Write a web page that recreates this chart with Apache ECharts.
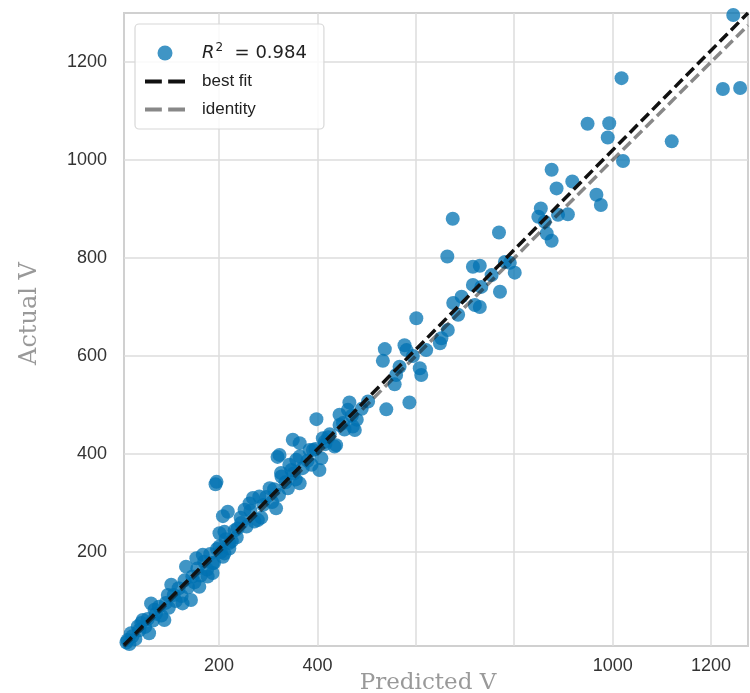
<!DOCTYPE html>
<html>
<head>
<meta charset="utf-8">
<script src="https://cdn.jsdelivr.net/npm/echarts@6/dist/echarts.min.js"></script>
<style>
html,body{margin:0;padding:0;background:#fff;}
#chart{width:750px;height:693px;}
</style>
</head>
<body>
<div id="chart"></div>
<script>
// Predicted (x) and actual (y) values
const predicted = [
 1245,1224,1259,1120,1018,1021,949,993,990,876,886,918,967,976,854,849,889,909,862,866,876,
 769,781,791,801,771,754,730,733,730,664,675,716,716,720,693,676,686,665,601,649,652,577,581,
 537,533,608,611,567,560,594,621,557,540,587,503,465,462,476,472,445,452,438,398,411,408,391,
 364,445,435,384,404,350,319,357,347,370,326,364,323,343,327,364,303,316,282,269,262,252,218,
 208,279,286,245,238,211,201,221,201,167,154,133,187,208,193,195,221,211,177,187,160,143,126,
 103,96,62,69,89,45,35,21,14,58,425,415,
 12,18,24,30,38,42,50,55,66,72,78,83,92,98,108,112,118,124,130,137,146,150,156,163,170,176,
 182,190,196,204,214,226,232,236,244,256,264,272,290,296,308,312,322,335,340,352,356,380,388,
 396,416,422,455,470,480,490
];
const actual = [
 1296,1145,1147,1038,1167,998,1074,1075,1046,980,942,956,929,908,901,884,888,889,874,850,835,
 852,792,790,770,731,765,784,741,700,803,880,782,745,704,721,708,684,653,677,626,636,622,612,
 614,590,575,561,578,561,600,612,542,491,505,507,505,490,449,456,480,463,418,471,432,391,408,
 340,459,415,408,367,429,394,388,367,371,361,422,398,378,354,395,330,289,313,310,299,286,282,
 273,265,270,259,248,241,238,207,211,194,187,170,177,190,338,343,218,197,150,157,129,102,95,
 133,112,95,82,61,61,48,34,20,34,440,425,
 15,12,28,22,40,55,47,63,60,74,88,70,96,86,112,100,126,110,142,128,150,138,166,152,180,164,
 196,178,206,200,226,222,244,230,270,252,284,262,296,312,302,328,316,342,330,360,348,386,378,
 410,420,434,450,478,470,492
];
// best-fit line endpoints and identity line endpoints
const bestFitX = [7, 1275];
const bestFitY = [10, 1300];
const identityX = [7, 1275];
const identityY = [7, 1275];
const r2Label = '0.984';
const xTicks = [200, 400, 600, 800, 1000, 1200];
const xTickLabels = [200, 400, 1000, 1200];
const yTicks = [200, 400, 600, 800, 1000, 1200];

const chart = echarts.init(document.getElementById('chart'));
const pts = predicted.map((v, i) => [v, actual[i]]);
const tickFont = {color: '#333', fontSize: 18, fontFamily: 'Liberation Sans, Arial, sans-serif', formatter: v => String(v)};
const dashIcon = 'path://M0,0h16v4h-16z M22,0h16v4h-16z';

chart.setOption({
  animation: false,
  backgroundColor: '#fff',
  grid: {left: 124, right: 2, top: 13, bottom: 47, show: true, borderColor: '#d0d0d0', borderWidth: 2,
         containLabel: false, outerBoundsMode: 'none'},
  xAxis: {
    type: 'value', min: 7, max: 1275,
    name: 'Predicted V', nameLocation: 'middle', nameGap: 26, nameMoveOverlap: false,
    nameTextStyle: {color: '#999', fontSize: 23, fontFamily: 'DejaVu Serif, serif', padding: [0, 16, 0, 0]},
    axisLine: {show: false},
    axisTick: {show: false, customValues: xTicks},
    axisLabel: Object.assign({customValues: xTickLabels, margin: 11}, tickFont),
    splitLine: {show: true, lineStyle: {color: '#dcdcdc', width: 1.5}}
  },
  yAxis: {
    type: 'value', min: 8, max: 1300,
    name: 'Actual V', nameLocation: 'middle', nameGap: 82, nameMoveOverlap: false,
    nameTextStyle: {color: '#999', fontSize: 24, fontFamily: 'DejaVu Serif, serif', padding: [0, 0, 0, 32]},
    axisLine: {show: false},
    axisTick: {show: false, customValues: yTicks},
    axisLabel: Object.assign({customValues: yTicks, margin: 17}, tickFont),
    splitLine: {show: true, lineStyle: {color: '#dcdcdc', width: 1.5}}
  },
  legend: {
    orient: 'vertical', left: 135, top: 24,
    padding: [18, 17, 11, 10], itemGap: 11, itemWidth: 40, itemHeight: 15,
    backgroundColor: 'rgba(255,255,255,0.85)', borderColor: '#d8d8d8', borderWidth: 1.2, borderRadius: 4,
    data: [
      {name: 'R2', icon: 'circle'},
      {name: 'best fit', icon: dashIcon},
      {name: 'identity', icon: dashIcon}
    ],
    formatter: function (name) {
      if (name === 'R2') return '{it|R}{sup|2}{t|  = ' + r2Label + '}';
      return name;
    },
    textStyle: {
      color: '#222', fontSize: 17, fontFamily: 'Liberation Sans, Arial, sans-serif', padding: [0, 0, 0, 12],
      rich: {
        it: {fontStyle: 'italic', fontSize: 18, fontFamily: 'DejaVu Sans, sans-serif', color: '#222'},
        sup: {fontSize: 12, fontFamily: 'DejaVu Sans, sans-serif', verticalAlign: 'bottom', padding: [0, 0, 10, 1], color: '#222'},
        t: {fontSize: 18, fontFamily: 'DejaVu Sans, sans-serif', color: '#222'}
      }
    }
  },
  series: [
    {
      name: 'R2', type: 'scatter', data: pts, symbolSize: 14,
      itemStyle: {color: '#0072B2', opacity: 0.75}
    },
    {
      name: 'best fit', type: 'line', showSymbol: false, symbol: 'none',
      data: bestFitX.map((v, i) => [v, bestFitY[i]]),
      lineStyle: {color: '#111', width: 3.5, type: [11, 5]}, itemStyle: {color: '#111'}, z: 3
    },
    {
      name: 'identity', type: 'line', showSymbol: false, symbol: 'none',
      data: identityX.map((v, i) => [v, identityY[i]]),
      lineStyle: {color: '#111', opacity: 0.5, width: 3.5, type: [11, 5]}, itemStyle: {color: '#888'}, z: 4
    }
  ]
});
</script>
</body>
</html>
